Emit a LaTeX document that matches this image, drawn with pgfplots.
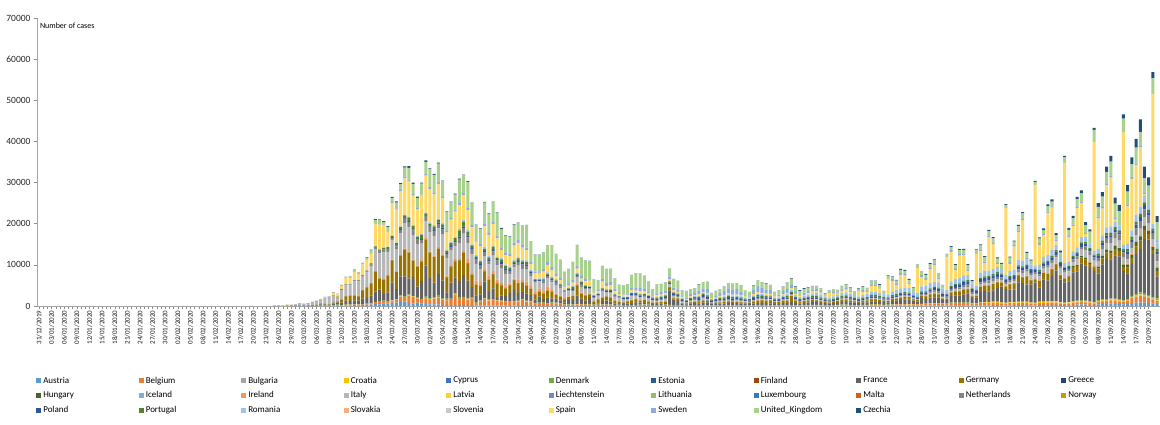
\documentclass[border=0pt]{standalone}
\usepackage{fontspec}
\setmainfont{Carlito}
\usepackage{pgfplots}
\pgfplotsset{compat=1.18}
\usepackage{pgfplotstable}

\definecolor{cAT}{HTML}{5B9BD5}
\definecolor{cBE}{HTML}{ED7D31}
\definecolor{cBG}{HTML}{A5A5A5}
\definecolor{cHR}{HTML}{FFC000}
\definecolor{cCY}{HTML}{4472C4}
\definecolor{cDK}{HTML}{70AD47}
\definecolor{cEE}{HTML}{255E91}
\definecolor{cFI}{HTML}{9E480E}
\definecolor{cFR}{HTML}{636363}
\definecolor{cDE}{HTML}{997300}
\definecolor{cGR}{HTML}{264478}
\definecolor{cHU}{HTML}{43682B}
\definecolor{cIS}{HTML}{7CAFDD}
\definecolor{cIE}{HTML}{F1975A}
\definecolor{cIT}{HTML}{B7B7B7}
\definecolor{cLV}{HTML}{FFCD33}
\definecolor{cLI}{HTML}{698ED0}
\definecolor{cLT}{HTML}{8CC168}
\definecolor{cLU}{HTML}{327DC2}
\definecolor{cMT}{HTML}{D26012}
\definecolor{cNL}{HTML}{848484}
\definecolor{cNO}{HTML}{CC9A00}
\definecolor{cPL}{HTML}{2F5597}
\definecolor{cPT}{HTML}{548235}
\definecolor{cRO}{HTML}{9DC3E6}
\definecolor{cSK}{HTML}{F4B183}
\definecolor{cSI}{HTML}{C9C9C9}
\definecolor{cES}{HTML}{FFD966}
\definecolor{cSE}{HTML}{8FAADC}
\definecolor{cUK}{HTML}{A9D18E}
\definecolor{cCZ}{HTML}{1F4E79}

\pgfplotsset{sq legend/.style={legend image code/.code={\fill[##1] (0pt,-2.6pt) rectangle (5.2pt,2.6pt);}}}

% daily cases by country, day 0 = 31/12/2019
\pgfplotstableread{
d at be hr dk fr de hu ie it nl pl pt ro es se uk cz
56 0 0 0 0 2 2 0 0 79 0 0 0 0 2 0 0 0
57 2 0 0 0 2 6 0 0 93 0 0 0 0 3 0 0 0
58 0 0 1 0 12 18 0 0 78 0 0 0 0 4 1 0 0
59 0 0 2 0 20 26 0 0 250 1 0 0 0 8 0 0 0
60 0 1 0 1 19 10 0 0 238 1 0 0 0 17 0 3 0
61 5 1 1 0 43 53 0 1 240 5 0 0 3 13 5 12 0
62 4 0 0 2 30 18 0 0 566 8 0 0 0 36 7 4 3
63 8 6 0 2 61 46 0 0 342 14 0 2 0 45 1 13 2
64 8 5 0 5 13 46 0 3 466 20 1 2 0 57 14 13 0
65 12 13 1 6 81 106 2 4 587 44 0 4 2 56 15 34 7
66 16 27 3 10 92 158 0 5 769 46 4 5 4 58 41 29 7
67 25 59 2 10 276 121 4 6 778 60 4 8 2 137 36 48 7
68 28 60 1 5 296 214 0 6 1247 77 5 5 6 120 67 46 6
69 27 31 2 5 177 161 5 3 1492 56 5 9 2 233 42 67 8
70 51 39 2 172 286 188 3 6 1797 61 5 9 6 557 100 50 15
71 49 28 3 252 497 245 4 10 977 121 12 17 15 600 65 52 31
72 112 45 4 60 595 742 6 9 2313 190 14 29 20 716 150 83 22
73 115 169 5 240 785 1043 4 27 2651 155 31 19 22 1500 156 134 38
74 151 200 11 62 838 1174 7 20 2547 190 19 66 30 1522 100 208 33
75 195 133 10 33 924 1144 11 39 3497 176 43 57 38 2000 96 342 78
76 159 197 12 29 900 1042 7 40 3590 155 48 79 48 1438 89 251 110
77 205 172 9 37 1400 2000 11 54 3233 278 27 86 63 2538 146 152 85
78 314 185 16 73 1404 2550 8 69 3526 292 48 117 57 2538 92 407 124
79 314 243 9 98 1861 2958 15 74 4207 346 70 194 63 2300 125 676 170
80 454 462 14 55 2500 4800 8 191 5322 409 68 235 31 5300 193 900 196
81 375 558 24 99 2900 2705 18 126 5986 534 111 260 60 6000 163 1035 116
82 595 586 25 101 1559 3500 18 102 6557 637 99 320 66 5500 133 665 181
83 600 342 39 92 2200 4062 25 219 5560 573 115 460 143 3646 162 967 200
84 800 526 52 135 4200 5400 20 121 4789 545 152 302 143 7900 220 967 260
85 800 668 59 121 2446 4118 35 204 5249 811 150 633 186 7937 301 1427 285
86 1000 1298 65 237 4600 4954 39 255 5210 852 150 549 144 8578 238 1452 263
87 1100 1049 71 197 4800 6400 61 302 6153 1019 170 724 123 9000 314 2129 321
88 700 1850 91 184 3809 6294 39 302 5959 1172 249 902 162 8700 305 2885 371
89 564 1702 55 142 4611 3965 33 200 5974 1159 224 792 216 7200 328 2546 260
90 805 1063 79 188 2599 4751 39 295 5217 1104 193 446 263 6398 401 2433 291
91 564 876 77 243 4376 4615 55 325 4050 884 256 1035 236 9222 286 2619 248
92 500 1384 96 283 7578 6300 45 392 4053 845 243 808 180 9000 340 3009 359
93 400 1189 68 274 4861 6156 60 212 4782 1019 244 783 255 8102 466 4324 278
94 400 1422 53 320 3500 6174 38 402 4668 1083 463 852 277 7472 512 4244 240
95 400 1661 63 371 5233 6082 55 424 4585 1026 392 638 333 8400 466 4450 264
96 300 1260 56 292 4267 5936 55 390 4805 1224 475 754 334 6023 378 3735 185
97 250 1123 40 390 1500 3677 44 331 4316 952 311 452 327 4273 387 4500 134
98 200 1209 50 312 3912 3834 73 366 3599 777 265 712 193 5478 376 3802 182
99 250 2454 60 331 3777 4003 78 500 3039 969 325 699 278 6180 487 3634 237
100 300 1380 67 390 3881 4974 85 365 3836 1213 370 1516 362 5756 722 5491 258
101 250 1684 68 233 5300 5323 45 500 4204 1335 380 1211 344 6000 544 4344 176
102 200 1351 93 184 4342 4133 100 1000 3951 1316 425 1000 386 4830 466 6400 186
103 200 1629 50 177 2600 2821 95 430 4694 1174 268 598 264 4167 544 5233 165
104 150 530 52 210 1613 2537 72 992 4092 1188 270 349 301 3268 332 3700 131
105 100 1000 48 178 1500 2082 52 832 3153 964 268 657 270 3477 465 3600 236
106 150 1580 49 164 4000 2486 75 657 2972 868 380 514 395 5092 497 5252 167
107 100 1236 30 170 1900 2866 85 1068 2667 734 311 643 297 5183 482 4603 164
108 100 1329 31 170 2641 3380 84 724 3786 1061 306 750 366 5252 613 4617 147
109 100 1236 36 123 405 3609 100 777 3493 1235 335 181 321 4499 676 5599 88
110 80 1036 27 190 1200 2458 100 500 3491 1066 545 657 314 2000 606 4500 206
111 80 900 21 135 1300 1775 55 493 3047 964 400 521 363 2400 563 4000 171
112 60 933 22 142 2051 1785 66 401 2256 750 263 516 351 2500 545 4200 130
113 80 973 29 186 2667 2237 98 388 2729 729 381 371 330 3500 680 4301 186
114 50 1032 25 172 1827 2352 77 936 3370 797 313 603 318 3500 751 4000 116
115 60 1496 15 152 1653 2337 60 577 2646 1066 355 444 311 3000 812 4583 88
116 50 1032 20 183 1773 1869 71 936 3021 655 460 595 428 2500 610 5386 120
117 40 1045 10 120 1400 1514 92 701 2357 708 285 163 289 1500 466 4913 72
118 30 553 11 171 800 1257 50 498 2324 400 263 92 233 1400 286 4000 100
119 40 647 13 125 1500 1144 49 701 1739 171 180 183 190 1200 303 4309 68
120 40 701 20 158 800 1304 44 376 2091 386 285 295 351 1500 607 3996 54
121 50 516 9 149 1400 1478 73 1015 2086 513 344 183 366 1800 681 4076 67
122 40 661 16 143 1000 1639 41 359 1872 475 381 253 290 1500 790 5300 60
123 40 600 14 161 1000 945 32 221 1965 445 314 480 330 700 560 4800 40
124 30 476 15 142 700 793 41 330 1900 335 275 228 245 800 462 4500 30
125 30 361 10 107 400 679 18 375 1389 199 142 92 214 500 235 3600 20
126 20 220 6 120 1100 685 18 159 1221 232 302 175 200 500 407 3600 52
127 40 310 9 110 1000 947 35 151 1075 199 300 533 250 700 621 4400 70
128 40 323 7 140 2000 2500 33 400 1444 455 307 178 275 1000 705 5000 30
129 40 356 10 85 1300 1209 36 236 1401 319 285 553 326 500 642 4500 31
130 40 301 8 128 800 1251 34 222 1327 232 318 231 210 900 562 4400 40
131 30 299 7 143 1700 667 22 159 1083 166 297 138 260 1200 282 4500 29
132 20 224 6 75 400 357 15 107 802 146 246 163 190 500 128 3000 24
133 20 257 3 60 300 933 20 100 744 161 277 98 190 400 373 2200 13
134 20 300 4 85 800 798 26 87 1402 199 300 234 240 1400 620 3200 40
135 30 277 8 72 900 933 42 86 888 227 268 181 220 700 750 3403 17
136 40 291 2 58 700 913 24 56 992 220 340 264 230 900 783 3242 25
137 30 208 3 60 300 620 35 90 789 199 268 226 190 600 600 2400 20
138 20 125 1 70 200 583 20 64 875 125 183 138 180 300 300 2000 15
139 20 175 0 50 200 342 11 70 675 99 289 173 160 300 200 2200 20
140 15 195 0 70 300 513 13 51 451 82 247 192 144 300 246 2400 14
141 20 166 1 60 300 797 18 159 813 229 323 252 160 600 600 3000 40
142 20 194 2 70 600 745 21 64 665 189 350 219 170 400 774 3500 25
143 30 265 0 52 500 460 20 59 642 188 330 264 190 600 724 3600 12
144 20 300 0 50 400 638 21 72 652 204 250 288 190 500 500 3300 20
145 15 260 1 40 300 431 23 57 669 176 400 138 160 400 300 2600 20
146 15 200 1 40 200 289 19 40 531 130 397 165 150 100 100 1700 15
147 15 180 0 48 200 432 21 59 300 150 416 222 140 400 300 2400 20
148 15 200 0 40 300 362 37 50 397 171 395 304 190 300 600 2004 21
149 15 250 1 40 400 353 33 50 584 181 300 350 180 400 540 2013 37
150 20 240 2 40 3500 741 35 40 593 176 290 284 170 400 700 1887 25
151 20 200 1 30 1300 286 28 60 516 200 250 350 160 400 650 2095 40
152 15 200 1 30 1000 500 23 60 416 200 300 246 170 300 400 2300 20
153 20 100 1 30 300 200 5 20 355 100 380 200 150 300 0 1600 50
154 20 80 0 20 300 200 2 20 178 110 230 200 120 250 300 1600 40
155 30 100 1 30 400 300 3 20 318 140 300 300 150 300 500 1100 50
156 40 150 2 30 500 300 5 30 321 150 350 300 200 200 600 1000 60
157 40 150 1 40 400 400 5 30 177 180 500 350 250 400 800 1500 70
158 40 120 2 40 600 500 5 30 518 200 600 350 250 100 900 1500 60
159 30 100 2 40 700 400 5 20 270 180 550 300 200 400 900 1800 50
160 20 80 1 30 300 200 3 10 197 100 400 200 150 250 0 1200 30
161 20 80 1 30 300 300 3 10 280 100 300 250 180 200 400 1200 40
162 30 100 2 30 400 300 5 20 283 130 400 300 200 250 700 900 50
163 30 100 2 40 400 400 5 20 202 150 450 300 250 300 1000 1000 60
164 40 120 3 40 500 400 5 20 379 150 500 350 300 300 1200 1200 60
165 40 100 3 40 500 300 5 20 163 150 500 350 300 300 1300 1400 50
166 30 100 4 40 600 250 5 20 346 150 400 300 250 300 1300 1350 60
167 30 100 3 30 500 200 5 20 338 150 400 300 250 300 900 1500 50
168 20 80 2 30 500 200 3 10 301 100 300 250 200 300 0 1500 30
169 20 80 2 30 300 300 3 10 210 100 300 300 200 200 300 1000 50
170 30 100 5 40 400 400 5 20 329 150 450 350 300 300 1000 1100 70
171 40 100 5 40 500 600 5 20 333 150 500 350 320 400 1600 1200 70
172 40 100 6 40 500 700 5 20 251 150 400 350 300 300 1300 1300 70
173 40 100 8 40 500 600 5 20 262 150 350 300 320 300 1000 1400 80
174 30 80 10 40 500 700 5 20 224 120 300 300 300 300 900 1200 80
175 20 80 10 30 300 500 3 10 221 80 300 250 300 200 0 1000 100
176 20 80 15 30 300 500 3 10 113 100 300 300 300 200 500 1000 100
177 30 80 20 40 500 600 5 20 190 100 300 350 320 300 800 900 130
178 40 100 30 40 500 600 5 20 296 100 350 400 400 300 1000 1300 200
179 40 100 40 40 700 1500 5 20 255 120 300 400 450 300 1000 1200 260
180 30 80 50 30 500 600 5 20 175 100 300 350 400 300 700 900 250
181 20 80 50 30 400 400 5 10 174 80 250 300 350 300 0 1200 200
182 30 80 60 30 500 500 5 10 126 80 300 300 350 300 600 900 150
183 70 100 60 15 600 450 10 10 187 60 350 330 550 400 500 700 120
184 80 100 70 15 700 500 10 10 201 60 370 350 600 500 500 700 120
185 80 120 70 20 650 450 10 10 223 70 380 400 700 400 500 700 100
186 80 100 60 15 500 400 10 10 235 60 300 350 650 500 400 600 100
187 60 80 50 10 500 300 10 10 192 40 280 300 500 0 0 700 100
188 60 80 60 10 400 200 10 10 208 40 250 250 450 1000 0 600 80
189 70 90 60 10 500 300 10 10 138 50 280 300 500 700 400 600 90
190 80 100 70 15 500 400 10 15 193 60 300 350 600 300 300 500 100
191 90 120 80 15 700 450 10 15 229 60 350 350 700 500 400 700 120
192 100 120 80 15 700 450 10 15 276 70 350 400 700 700 400 800 120
193 90 110 70 15 600 400 10 15 188 60 300 350 650 600 300 700 130
194 70 100 60 10 600 300 10 10 234 50 280 300 600 0 0 800 100
195 60 100 60 10 500 250 10 10 169 50 250 250 550 1200 0 700 100
196 80 110 70 15 600 350 10 15 114 60 300 300 600 800 500 700 150
197 90 120 60 15 600 400 10 15 163 60 300 350 700 500 300 600 150
198 100 150 70 20 800 500 10 20 230 80 350 400 750 1400 400 700 200
199 100 150 70 20 800 500 10 20 233 80 350 350 800 1400 400 700 200
200 100 150 60 20 700 400 10 20 249 80 330 300 800 1000 300 600 180
201 80 130 50 15 700 250 10 15 219 80 300 300 700 0 0 700 150
202 80 150 60 15 600 300 10 20 190 100 320 250 700 3800 0 700 150
203 100 180 70 20 900 450 10 20 129 100 350 300 900 2500 500 600 150
204 110 200 60 20 900 500 10 20 282 120 350 300 1000 1200 400 700 150
205 120 250 70 25 1000 550 15 20 306 140 400 300 1100 3300 400 800 200
206 120 250 80 25 1100 600 15 20 252 150 450 300 1100 2900 400 800 200
207 110 250 70 25 1100 600 15 20 275 150 400 250 1100 1000 300 700 200
208 80 250 60 20 900 300 10 15 255 150 350 200 1000 0 0 800 150
209 80 250 60 20 700 300 10 20 170 150 300 150 900 6100 0 700 150
210 120 300 70 25 1400 600 10 20 181 200 400 250 1200 2200 500 700 200
211 120 350 70 30 1100 700 15 30 212 250 450 250 1300 1500 400 800 250
212 130 400 80 30 1400 800 15 30 289 300 500 300 1300 3400 400 800 250
213 140 450 80 35 1400 900 15 40 386 350 600 250 1300 3900 400 850 250
214 120 500 50 50 1300 800 15 40 295 400 650 200 1300 900 300 750 230
215 80 450 40 40 900 300 10 30 239 350 600 150 1100 0 0 700 150
216 70 450 40 40 800 400 10 30 159 300 550 100 900 8000 0 700 150
217 130 550 60 60 1600 900 20 50 190 450 650 200 1100 7200 400 800 200
218 140 550 60 70 1700 1000 20 60 384 450 680 200 1200 2140 400 900 250
219 150 550 70 80 1700 1000 20 70 402 500 700 250 1300 5460 400 900 250
220 150 550 70 80 2000 1100 25 80 552 550 750 250 1300 4860 400 900 280
221 150 550 80 80 2200 1000 25 80 500 550 800 250 1300 955 400 1000 280
222 100 450 60 60 1300 400 20 60 463 500 700 150 1200 0 0 600 200
223 80 450 60 60 1400 400 20 60 259 400 600 150 1000 7700 0 1000 150
224 150 600 100 100 2500 1200 25 100 412 550 800 250 1300 5200 450 1000 250
225 160 600 120 100 2700 1200 30 120 481 600 800 300 1300 1900 400 1000 300
226 170 600 150 110 2500 1400 30 130 523 600 800 300 1300 8100 400 1100 300
227 200 600 180 120 2700 1500 30 150 574 600 800 300 1300 6000 400 1000 300
228 200 550 180 120 3300 1400 30 150 629 550 800 300 1300 700 300 1000 300
229 150 500 150 100 3800 900 25 100 629 600 700 200 1200 0 0 1200 250
230 120 450 150 80 3300 600 25 100 479 500 600 150 1000 16300 0 700 200
231 180 500 200 100 3000 1300 30 150 320 550 700 250 1200 1770 500 1000 250
232 200 500 200 100 3000 1400 40 150 403 550 700 250 1200 5760 400 800 250
233 220 500 220 100 4700 1700 40 200 642 600 700 250 1300 6750 400 1100 280
234 230 500 230 100 4500 1400 40 150 840 600 800 250 1300 9960 400 1200 300
235 230 500 250 100 4100 2000 50 150 947 600 800 300 1300 0 300 1200 300
236 150 450 200 80 4350 1000 40 150 1071 550 700 200 1100 0 0 1000 250
237 120 400 200 80 4860 700 30 150 1210 500 600 150 900 19400 0 900 200
238 250 450 250 100 3500 1500 50 150 953 500 700 300 1300 4850 400 1100 350
239 250 450 300 100 5400 1500 50 150 878 550 700 300 1300 5240 300 1000 400
240 300 450 300 100 5000 1600 60 150 1367 550 800 300 1400 10270 300 1300 450
241 300 500 300 100 6100 1500 80 200 1411 550 800 350 1400 10300 300 1200 500
242 300 500 300 100 7400 1500 100 150 1460 600 800 400 1300 900 300 1100 500
243 250 400 250 100 5400 1000 100 150 1444 600 700 300 1200 0 0 1100 450
244 200 350 200 100 4900 800 100 100 1365 500 600 200 1000 24400 0 1300 400
245 250 400 250 100 5000 1200 150 100 996 550 500 250 1000 6050 400 1300 500
246 300 500 250 120 7000 1300 200 100 978 600 550 300 1100 6100 400 1500 600
247 350 550 250 150 7100 1300 250 150 1326 650 600 350 1200 9570 400 1700 650
248 400 600 250 150 8900 1500 300 200 1397 700 650 400 1300 8300 400 1900 750
249 350 550 250 150 8500 1500 350 200 1733 900 650 400 1300 670 300 1800 800
250 300 500 200 150 8100 1000 300 150 1695 900 500 300 1100 0 0 2900 500
251 250 400 200 150 7500 800 300 150 1297 800 400 250 900 26500 0 2900 500
252 400 600 250 150 6500 1200 400 200 1108 900 600 400 1100 7500 400 2400 900
253 450 700 250 200 8500 1500 500 250 1370 1100 600 450 1300 6500 400 2500 1100
254 500 700 250 200 9800 1600 600 250 1434 1200 600 600 1400 10170 400 2900 1300
255 550 800 250 250 9400 1500 700 250 1597 1300 600 650 1500 11850 400 3500 1400
256 500 800 250 250 10500 1600 750 250 1616 1400 600 650 1400 400 400 3500 1500
257 450 700 200 200 10500 1300 700 200 1638 1500 500 500 1200 0 0 3500 1500
258 400 600 150 200 7200 900 600 200 1501 1300 400 400 1000 27400 0 3300 1000
259 500 800 200 250 6200 1400 700 250 1008 1300 600 600 1300 9090 500 3100 1600
260 700 1200 250 300 7800 1400 800 300 1229 1400 800 700 1500 12520 400 3100 1700
261 800 1500 250 350 9800 1800 1000 300 1452 1600 900 750 1700 12000 400 3900 2100
262 850 1700 300 450 10600 2000 1000 350 1585 1800 1000 800 1700 14400 400 3400 3000
263 850 1500 300 450 13200 2200 900 300 1907 1900 1000 700 1700 300 400 3400 2900
264 700 1300 250 400 13500 1300 800 250 1638 1800 800 600 1500 0 0 4400 2000
265 600 1000 200 300 10600 900 700 250 1587 1600 600 500 1200 31400 0 3900 1500
266 500 800 200 350 5300 1400 700 250 1350 1700 700 700 1500 0 500 4400 1500
}\data

\begin{document}
\begin{tikzpicture}
\path[use as bounding box] (0pt,0pt) rectangle (1160pt,424pt);
\begin{axis}[
  at={(37pt,118pt)}, anchor=south west,
  width=1123pt, height=288pt, scale only axis,
  xmin=-0.5, xmax=266.7, ymin=0, ymax=70000,
  ybar stacked, bar width=0.72,
  axis x line*=bottom, axis y line*=left,
  axis line style={draw=black!35, line width=0.6pt},
  tick style={draw=black!45, line width=0.5pt},
  tick align=outside, major tick length=3pt, minor tick length=2.5pt,
  ytick={0,10000,...,70000}, scaled y ticks=false,
  /pgf/number format/assume math mode=true,
  /pgf/number format/1000 sep={},
  yticklabel style={font=\fontsize{9.5}{10}\selectfont, text=black!85},
  xtick={0,3,...,264}, minor x tick num=2,
  xticklabels={31/12/2019,03/01/2020,06/01/2020,09/01/2020,12/01/2020,15/01/2020,18/01/2020,21/01/2020,24/01/2020,27/01/2020,30/01/2020,02/02/2020,05/02/2020,08/02/2020,11/02/2020,14/02/2020,17/02/2020,20/02/2020,23/02/2020,26/02/2020,29/02/2020,03/03/2020,06/03/2020,09/03/2020,12/03/2020,15/03/2020,18/03/2020,21/03/2020,24/03/2020,27/03/2020,30/03/2020,02/04/2020,05/04/2020,08/04/2020,11/04/2020,14/04/2020,17/04/2020,20/04/2020,23/04/2020,26/04/2020,29/04/2020,02/05/2020,05/05/2020,08/05/2020,11/05/2020,14/05/2020,17/05/2020,20/05/2020,23/05/2020,26/05/2020,29/05/2020,01/06/2020,04/06/2020,07/06/2020,10/06/2020,13/06/2020,16/06/2020,19/06/2020,22/06/2020,25/06/2020,28/06/2020,01/07/2020,04/07/2020,07/07/2020,10/07/2020,13/07/2020,16/07/2020,19/07/2020,22/07/2020,25/07/2020,28/07/2020,31/07/2020,03/08/2020,06/08/2020,09/08/2020,12/08/2020,15/08/2020,18/08/2020,21/08/2020,24/08/2020,27/08/2020,30/08/2020,02/09/2020,05/09/2020,08/09/2020,11/09/2020,14/09/2020,17/09/2020,20/09/2020},
  xticklabel style={rotate=90, anchor=east, font=\fontsize{7}{7}\selectfont, text=black!90, inner sep=1.5pt},
  legend columns=11,
  legend cell align=left,
  legend style={at={(axis description cs:-0.001,-0.240)}, anchor=north west,
    draw=none, fill=none, inner sep=0pt,
    font=\fontsize{9}{10}\selectfont,
    nodes={text width=93.3pt, inner xsep=2pt, inner ysep=1.5pt},
    row sep=4pt},
]
\addplot[fill=cAT, draw=none, sq legend] table[x=d, y=at] {\data};
\addlegendentry{Austria}
\addplot[fill=cBE, draw=none, sq legend] table[x=d, y=be] {\data};
\addlegendentry{Belgium}
\addlegendimage{sq legend, fill=cBG, draw=none}
\addlegendentry{Bulgaria}
\addplot[fill=cHR, draw=none, sq legend] table[x=d, y=hr] {\data};
\addlegendentry{Croatia}
\addlegendimage{sq legend, fill=cCY, draw=none}
\addlegendentry{Cyprus}
\addplot[fill=cDK, draw=none, sq legend] table[x=d, y=dk] {\data};
\addlegendentry{Denmark}
\addlegendimage{sq legend, fill=cEE, draw=none}
\addlegendentry{Estonia}
\addlegendimage{sq legend, fill=cFI, draw=none}
\addlegendentry{Finland}
\addplot[fill=cFR, draw=none, sq legend] table[x=d, y=fr] {\data};
\addlegendentry{France}
\addplot[fill=cDE, draw=none, sq legend] table[x=d, y=de] {\data};
\addlegendentry{Germany}
\addlegendimage{sq legend, fill=cGR, draw=none}
\addlegendentry{Greece}
\addplot[fill=cHU, draw=none, sq legend] table[x=d, y=hu] {\data};
\addlegendentry{Hungary}
\addlegendimage{sq legend, fill=cIS, draw=none}
\addlegendentry{Iceland}
\addplot[fill=cIE, draw=none, sq legend] table[x=d, y=ie] {\data};
\addlegendentry{Ireland}
\addplot[fill=cIT, draw=none, sq legend] table[x=d, y=it] {\data};
\addlegendentry{Italy}
\addlegendimage{sq legend, fill=cLV, draw=none}
\addlegendentry{Latvia}
\addlegendimage{sq legend, fill=cLI, draw=none}
\addlegendentry{Liechtenstein}
\addlegendimage{sq legend, fill=cLT, draw=none}
\addlegendentry{Lithuania}
\addlegendimage{sq legend, fill=cLU, draw=none}
\addlegendentry{Luxembourg}
\addlegendimage{sq legend, fill=cMT, draw=none}
\addlegendentry{Malta}
\addplot[fill=cNL, draw=none, sq legend] table[x=d, y=nl] {\data};
\addlegendentry{Netherlands}
\addlegendimage{sq legend, fill=cNO, draw=none}
\addlegendentry{Norway}
\addplot[fill=cPL, draw=none, sq legend] table[x=d, y=pl] {\data};
\addlegendentry{Poland}
\addplot[fill=cPT, draw=none, sq legend] table[x=d, y=pt] {\data};
\addlegendentry{Portugal}
\addplot[fill=cRO, draw=none, sq legend] table[x=d, y=ro] {\data};
\addlegendentry{Romania}
\addlegendimage{sq legend, fill=cSK, draw=none}
\addlegendentry{Slovakia}
\addlegendimage{sq legend, fill=cSI, draw=none}
\addlegendentry{Slovenia}
\addplot[fill=cES, draw=none, sq legend] table[x=d, y=es] {\data};
\addlegendentry{Spain}
\addplot[fill=cSE, draw=none, sq legend] table[x=d, y=se] {\data};
\addlegendentry{Sweden}
\addplot[fill=cUK, draw=none, sq legend] table[x=d, y=uk] {\data};
\addlegendentry{United\_Kingdom}
\addplot[fill=cCZ, draw=none, sq legend] table[x=d, y=cz] {\data};
\addlegendentry{Czechia}
\node[anchor=west, inner sep=0pt, font=\fontsize{8}{9}\selectfont] at (axis description cs:0.0025,0.972) {Number of cases};
\node[inner sep=0pt, font=\fontsize{7}{8}\selectfont, text=black!85] at (axis description cs:0.449,-0.167) {Day, month and year of reporting};
\end{axis}
\end{tikzpicture}
\end{document}
